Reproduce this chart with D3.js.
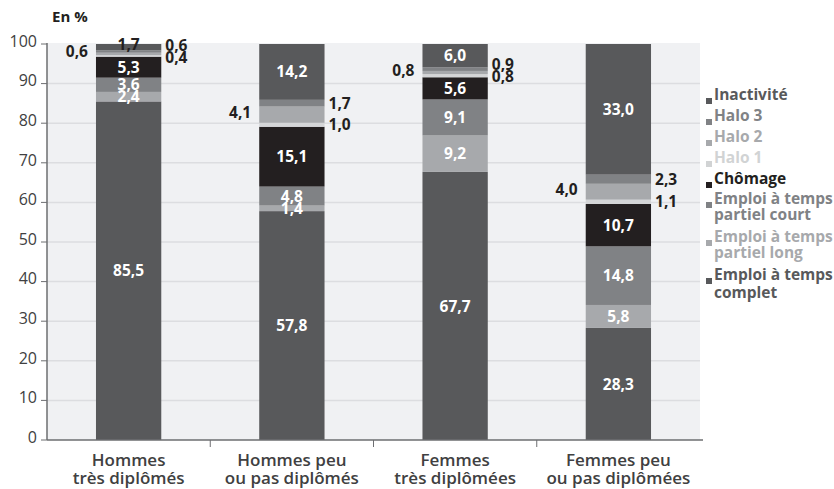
<!DOCTYPE html>
<html><head><meta charset="utf-8">
<script src="https://cdn.jsdelivr.net/npm/d3@7"></script>
<style>
body{margin:0;background:#fff;}
text{font-family:"Open Sans",sans-serif;}
</style></head>
<body><svg id="c" width="834" height="489"></svg>
<script>
const categories = ["Hommes\ntrès diplômés","Hommes peu\nou pas diplômés","Femmes\ntrès diplômées","Femmes peu\nou pas diplômées"];
const seriesNames = ["Emploi à temps complet","Emploi à temps partiel long","Emploi à temps partiel court","Chômage","Halo 1","Halo 2","Halo 3","Inactivité"];
const seriesKeys = ["complet","long","court","chomage","halo1","halo2","halo3","inactivite"];
const complet    = [85.5, 57.8, 67.7, 28.3];
const long       = [2.4, 1.4, 9.2, 5.8];
const court      = [3.6, 4.8, 9.1, 14.8];
const chomage    = [5.3, 15.1, 5.6, 10.7];
const halo1      = [0.4, 1.0, 0.8, 1.1];
const halo2      = [0.6, 4.1, 0.8, 4.0];
const halo3      = [0.6, 1.7, 0.9, 2.3];
const inactivite = [1.7, 14.2, 6.0, 33.0];
const yTicks = [0,10,20,30,40,50,60,70,80,90,100];

const colors = {complet:"#58595b",long:"#a7a9ac",court:"#808285",chomage:"#231f20",halo1:"#d4d5d7",halo2:"#a7a9ac",halo3:"#808285",inactivite:"#58595b"};
const legendColors = {complet:"#58595b",long:"#a7a9ac",court:"#808285",chomage:"#231f20",halo1:"#d1d3d4",halo2:"#a7a9ac",halo3:"#808285",inactivite:"#58595b"};
const labelPos = {complet:"in",long:"in",court:"in",chomage:"in",halo1:"right",halo2:"left",halo3:"right",inactivite:"in"};

const vals = {complet,long,court,chomage,halo1,halo2,halo3,inactivite};
const table = categories.map((c,i)=>{const o={cat:c}; seriesKeys.forEach(k=>o[k]=vals[k][i]); return o;});

const svg = d3.select("#c");
const L=47, R=700, T=44, B=440;
const x = d3.scaleBand().domain(categories).range([L,R]).padding(0);
const y = d3.scaleLinear().domain([0,100]).range([B,T]);
const barW = x.bandwidth()*0.4;

svg.append("rect").attr("x",L).attr("y",y(100)-1).attr("width",R-L).attr("height",B-y(100)+1).attr("fill","#f0f1f3");
svg.append("g").selectAll("line").data(yTicks.filter(d=>d>0&&d<100)).join("line")
  .attr("x1",L).attr("x2",R).attr("y1",d=>y(d)).attr("y2",d=>y(d)).attr("stroke","#dcdde0").attr("stroke-width",1.5);

const stack = d3.stack().keys(seriesKeys)(table);
const g = svg.append("g");
stack.forEach(layer=>{
  g.selectAll(null).data(layer).join("rect")
    .attr("x",d=>x(d.data.cat)+(x.bandwidth()-barW)/2)
    .attr("width",barW)
    .attr("y",d=>y(Math.min(d[1],100)))
    .attr("height",d=>Math.max(0,y(d[0])-y(Math.min(d[1],100))))
    .attr("fill",colors[layer.key]);
});

// labels
const fmt = v=>v.toFixed(1).replace(".",",");
const lab = svg.append("g").attr("font-size",15.5).attr("font-weight",700);
categories.forEach((c,i)=>{
  const cx = x(c)+x.bandwidth()/2;
  const rights=[];
  stack.forEach(layer=>{
    const d=layer[i], k=layer.key, v=d.data[k];
    const cy = y((d[0]+Math.min(d[1],100))/2);
    if(labelPos[k]==="in"){
      const small = k==="inactivite" && v<3;
      lab.append("text").attr("x",cx).attr("y",small?cy-3:cy).attr("dy","0.36em").attr("text-anchor","middle")
        .attr("fill",small?"#231f20":"#fff").text(fmt(v));
    } else if(labelPos[k]==="left"){
      lab.append("text").attr("x",cx-barW/2-8).attr("y",cy-2).attr("dy","0.36em").attr("text-anchor","end")
        .attr("fill","#231f20").text(fmt(v));
    } else {
      rights.push({v,cy});
    }
  });
  if(rights.length===2){
    const gap = rights[0].cy - rights[1].cy;
    if(gap<12){const m=(rights[0].cy+rights[1].cy)/2-2; rights[0].cy=m+6; rights[1].cy=m-6;}
  }
  rights.forEach(r=>{
    lab.append("text").attr("x",cx+barW/2+4).attr("y",r.cy).attr("dy","0.36em").attr("text-anchor","start")
      .attr("fill","#231f20").text(fmt(r.v));
  });
});

// axes
svg.append("line").attr("x1",L).attr("x2",L).attr("y1",y(100)-1).attr("y2",B).attr("stroke","#6d6e71").attr("stroke-width",1.5);
svg.append("line").attr("x1",L).attr("x2",R+3).attr("y1",B).attr("y2",B).attr("stroke","#6d6e71").attr("stroke-width",1.5);
const ya = svg.append("g");
yTicks.forEach(t=>{
  ya.append("line").attr("x1",L-6).attr("x2",L).attr("y1",y(t)).attr("y2",y(t)).attr("stroke","#6d6e71").attr("stroke-width",1);
  ya.append("text").attr("x",37).attr("y",y(t)-3).attr("dy","0.36em").attr("text-anchor","end")
    .attr("font-size",16).attr("fill","#404041").text(t);
});
categories.slice(1).forEach(c=>{
  svg.append("line").attr("x1",x(c)).attr("x2",x(c)).attr("y1",B).attr("y2",B+7).attr("stroke","#6d6e71").attr("stroke-width",1);
});
categories.forEach(c=>{
  const t = svg.append("text").attr("x",x(c)+x.bandwidth()/2).attr("y",466).attr("text-anchor","middle")
    .attr("font-size",17).attr("font-weight",600).attr("fill","#404041");
  c.split("\n").forEach((s,j)=>t.append("tspan").attr("x",x(c)+x.bandwidth()/2).attr("dy",j?18:0).text(s));
});
svg.append("text").attr("x",52).attr("y",22).attr("font-size",15).attr("font-weight",700).attr("fill","#231f20").text("En %");

// legend (top to bottom)
const legendOrder = seriesKeys.slice().reverse();
const legendY = [100,121,142,163,184,204,242,280];
const lg = svg.append("g").attr("font-size",15.5).attr("font-weight",700);
legendOrder.forEach((k,i)=>{
  const name = seriesNames[seriesKeys.indexOf(k)];
  const yy = legendY[i];
  lg.append("rect").attr("x",706).attr("y",yy-2).attr("width",6).attr("height",6).attr("fill",legendColors[k]);
  let lines=[name];
  if(name.startsWith("Emploi à temps ")) lines=["Emploi à temps", name.slice(15)];
  const t = lg.append("text").attr("x",714).attr("y",yy).attr("dy","0.36em").attr("fill",legendColors[k]);
  lines.forEach((s,j)=>t.append("tspan").attr("x",714).attr("dy",j?(k==="complet"?18:16):0).text(s));
});
</script></body></html>
